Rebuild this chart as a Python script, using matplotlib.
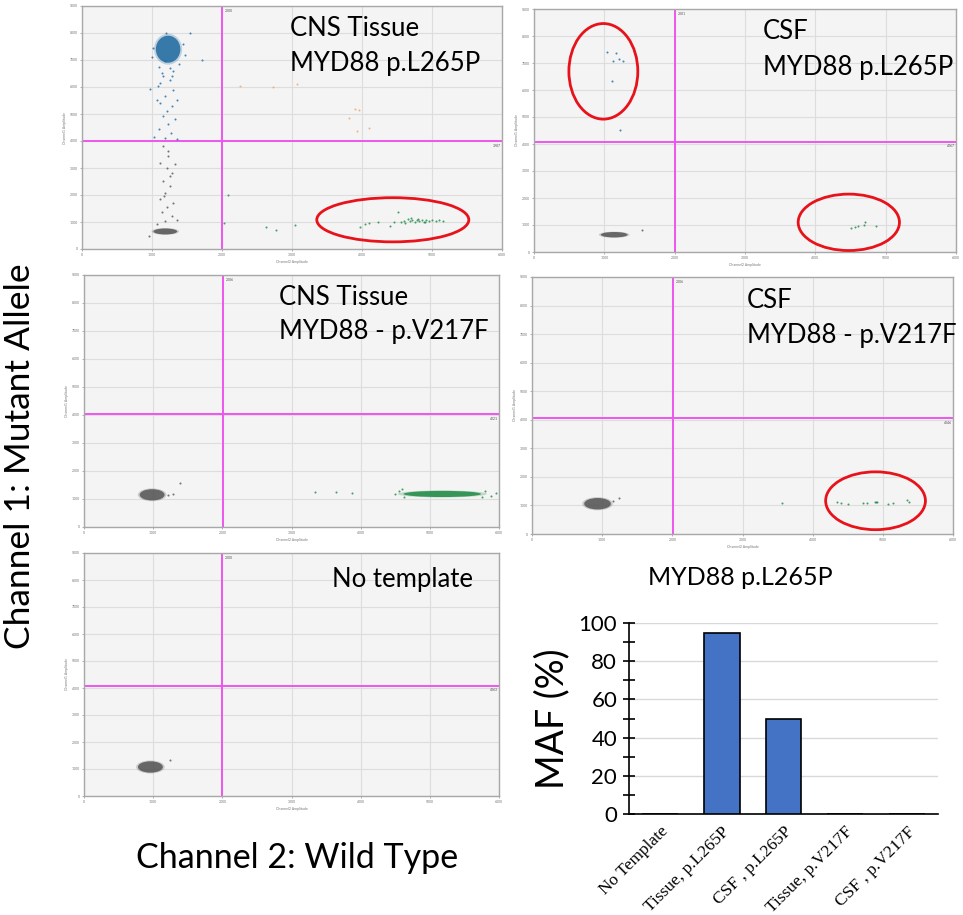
import numpy as np
import matplotlib
matplotlib.use("Agg")
from matplotlib import pyplot as plt
from matplotlib.patches import Ellipse

plt.rcParams['font.family'] = ['Lato', 'DejaVu Sans']

# ---- droplet data (Channel2 amplitude, Channel1 amplitude) ----
# dense clusters: centre x, centre y, half width, half height
tissue_l265p_neg = (1190, 650, 170, 110)
tissue_l265p_mut = (1230, 7400, 175, 500)
csf_l265p_neg = (1140, 640, 190, 100)
tissue_v217f_neg = (985, 1150, 180, 200)
tissue_v217f_wt = (5180, 1180, 560, 110)
csf_v217f_neg = (934, 1060, 190, 200)
no_template_neg = (960, 1075, 180, 210)

# sparse droplets, panel A (CNS tissue, p.L265P)
a_blue_x = [1163, 1258, 1091, 1306, 1187, 1115, 1282, 1211, 1153, 1330, 1234, 1105, 1268,
            1187, 1029, 1354, 1067, 1354, 1139, 1306, 1545, 1713, 971, 1100, 1380, 1250, 1180,
            1010, 1440, 1470, 1000, 1200, 1290, 1120]
a_blue_y = [6396, 6273, 6027, 5904, 5658, 5412, 5289, 5105, 4920, 4797, 4613, 4428, 4305,
            4120, 4157, 4059, 5535, 5535, 6519, 6581, 7995, 7010, 5930, 6750, 6850, 6700, 6950,
            7450, 7600, 7200, 7100, 8000, 6400, 6150]
a_grey_x = [1163, 1234, 1115, 1211, 1282, 1153, 1258, 1187, 1115, 1306, 1211, 1139, 1282,
            1187, 1354, 1067, 1234, 1330, 957, 1250, 1170]
a_grey_y = [3813, 3444, 3198, 3014, 2829, 2521, 2337, 2091, 1845, 1722, 1538, 1353, 1230,
            1045, 1082, 922, 3629, 3137, 467, 2700, 1950]
a_orange_x = [2263, 2732, 3067, 3904, 3952, 3809, 4100, 3923]
a_orange_y = [6027, 5990, 6125, 5190, 5141, 4870, 4465, 4366]
a_green_x = [2086, 2033, 2622, 2775, 3048, 3971, 4048, 4105, 4225, 4407, 4512, 4464,
             4550, 4600, 4620, 4650, 4680, 4700, 4720, 4750, 4780, 4800, 4820, 4850,
             4880, 4900, 4920, 4950, 5000, 5050, 5100, 5150]
a_green_y = [2005, 960, 824, 713, 898, 812, 922, 960, 1010, 861, 1353, 984,
             1000, 1050, 980, 1100, 1020, 1130, 1080, 1000, 1060, 1120, 1030, 1090,
             1010, 990, 1060, 1030, 1070, 1040, 1060, 1050]

# panel B (CSF, p.L265P)
b_blue_x = [1043, 1167, 1205, 1119, 1262, 1110, 1219]
b_blue_y = [7420, 7383, 7136, 7074, 7074, 6321, 4531]
b_grey_x = [1533]
b_grey_y = [827]
b_green_x = [4510, 4557, 4605, 4686, 4710, 4867]
b_green_y = [877, 926, 975, 1000, 1123, 950]

# panel C (CNS tissue, p.V217F)
c_grey_x = [1386, 1290, 1217]
c_grey_y = [1571, 1180, 1160]
c_green_x = [3343, 3643, 3874, 4494, 4560, 4620, 5800, 5880, 5960, 4600, 5750]
c_green_y = [1238, 1238, 1226, 1180, 1300, 1080, 1270, 1120, 1200, 1350, 1060]

# panel D (CSF, p.V217F)
d_grey_x = [1246, 1161]
d_grey_y = [1257, 1141]
d_green_x = [3564, 4351, 4398, 4502, 4716, 4778, 4882, 4905, 4919, 5071, 5152, 5346, 5379]
d_green_y = [1071, 1106, 1083, 1059, 1071, 1071, 1118, 1129, 1106, 1048, 1071, 1176, 1106]

# panel E (no template)
e_grey_x = [1239]
e_grey_y = [1332]

# thresholds (Channel2, Channel1)
thresholds = {"A": (2000, 3987), "B": (2001, 4067), "C": (2006, 4021),
              "D": (2006, 4046), "E": (2000, 4063)}

# red circles: centre x, centre y, width, height
circles_a = [(4440, 1082, 2172, 1636)]
circles_b = [(986, 6691, 980, 3540), (4476, 1099, 1440, 2090)]
circles_d = [(4896, 1164, 1422, 2026)]

# ---- bar chart data ----
maf_labels = ["No Template", "Tissue, p.L265P", "CSF , p.L265P", "Tissue, p.V217F", "CSF , p.V217F"]
maf_values = [0, 95, 50, 0, 0]

GREY = "#555555"
BLUE = "#1f6aa0"
GREEN = "#1f8a45"
ORANGE = "#f2a46a"
MAGENTA = "#ee55ee"


def droplet_panel(rect, key, clusters, points, circles, title_lines):
    ax = fig.add_axes(rect)
    ax.set_facecolor("#f4f4f4")
    ax.set_xlim(0, 6000)
    ax.set_ylim(0, 9000)
    ax.set_xticks(range(0, 6001, 1000))
    ax.set_yticks(range(0, 9001, 1000))
    ax.tick_params(labelsize=2.5, colors="#777777", length=1.5, width=0.4, pad=1.5)
    ax.grid(True, color="#dddddd", linewidth=0.8)
    ax.set_axisbelow(True)
    for sp in ax.spines.values():
        sp.set_color("#a8a8a8")
        sp.set_linewidth(1.0)
    ax.set_xlabel("Channel2 Amplitude", fontsize=2.5, color="#777777", labelpad=2)
    ax.set_ylabel("Channel1 Amplitude", fontsize=2.5, color="#777777", labelpad=2)

    for cx, cy, hw, hh, col in clusters:
        # soft halo then the dense core
        ax.add_patch(Ellipse((cx, cy), 2.3 * hw, 2.3 * hh, facecolor=col, edgecolor="none",
                             alpha=0.25, zorder=3))
        ax.add_patch(Ellipse((cx, cy), 2 * hw, 2 * hh, facecolor=col, edgecolor="none",
                             alpha=0.85, zorder=3))
    for xs, ys, col in points:
        ax.scatter(xs, ys, s=2.2, color=col, alpha=0.8, linewidths=0, zorder=4)

    tx, ty = thresholds[key]
    ax.axvline(tx, color=MAGENTA, linewidth=1.4, zorder=2)
    ax.axhline(ty, color=MAGENTA, linewidth=1.4, zorder=2)
    ax.text(tx + 40, 8900, str(tx), fontsize=2.5, color="#555555", va="top", ha="left")
    ax.text(5980, ty - 80, str(ty), fontsize=2.5, color="#555555", va="top", ha="right")

    for cx, cy, w, h in circles:
        ax.add_patch(Ellipse((cx, cy), w, h, fill=False, edgecolor="#e8121b",
                             linewidth=2.0, zorder=5))

    for x, y, s in title_lines:
        ax.text(x, y, s, transform=ax.transAxes, fontsize=18.5, va="baseline", ha="left")
    return ax


W, H = 963, 915
fig = plt.figure(figsize=(W / 100, H / 100), dpi=100)


def rect(l, r, t, b):
    return [l / W, 1 - b / H, (r - l) / W, (b - t) / H]


droplet_panel(rect(82, 502, 6, 249), "A",
              [tissue_l265p_mut + (BLUE,), tissue_l265p_neg + (GREY,)],
              [(a_blue_x, a_blue_y, BLUE), (a_grey_x, a_grey_y, GREY),
               (a_orange_x, a_orange_y, ORANGE), (a_green_x, a_green_y, GREEN)],
              circles_a, [(0.495, 0.877, "CNS Tissue"), (0.495, 0.733, "MYD88 p.L265P")])

droplet_panel(rect(534, 956, 9, 252), "B",
              [csf_l265p_neg + (GREY,)],
              [(b_blue_x, b_blue_y, BLUE), (b_grey_x, b_grey_y, GREY),
               (b_green_x, b_green_y, GREEN)],
              circles_b, [(0.543, 0.877, "CSF"), (0.543, 0.728, "MYD88 p.L265P")])

droplet_panel(rect(84, 499, 275, 527), "C",
              [tissue_v217f_neg + (GREY,), tissue_v217f_wt + (GREEN,)],
              [(c_grey_x, c_grey_y, GREY), (c_green_x, c_green_y, GREEN)],
              [], [(0.470, 0.881, "CNS Tissue"), (0.470, 0.746, "MYD88 - p.V217F")])

droplet_panel(rect(532, 953, 277, 534), "D",
              [csf_v217f_neg + (GREY,)],
              [(d_grey_x, d_grey_y, GREY), (d_green_x, d_green_y, GREEN)],
              circles_d, [(0.511, 0.879, "CSF"), (0.511, 0.743, "MYD88 - p.V217F")])

droplet_panel(rect(84, 499, 553, 796), "E",
              [no_template_neg + (GREY,)],
              [(e_grey_x, e_grey_y, GREY)],
              [], [(0.598, 0.860, "No template")])

fig.text(20 / W, 1 - 456 / H, "Channel 1: Mutant Allele", rotation=90, fontsize=25.5,
         ha="center", va="center")
fig.text(297 / W, 1 - 868 / H, "Channel 2: Wild Type", fontsize=24.5, ha="center", va="baseline")

# ---- MAF bar chart ----
bx = fig.add_axes(rect(629, 938, 623, 814))
pos = np.arange(len(maf_labels))
bx.bar(pos, maf_values, width=0.58, color="#4472c4", edgecolor="black", linewidth=1.2, zorder=3)
bx.set_xlim(-0.5, len(maf_labels) - 0.5)
bx.set_ylim(0, 100)
bx.set_yticks(range(0, 101, 20))
bx.set_yticks(range(10, 100, 20), minor=True)
bx.tick_params(axis="y", which="both", direction="inout", length=9, width=1.2,
               labelsize=16, pad=4)
bx.tick_params(axis="x", length=0, pad=7)
bx.set_xticks(pos)
bx.set_xticklabels(maf_labels, rotation=45, ha="right", va="top", rotation_mode="anchor",
                   family=["Liberation Serif"], fontsize=12.5)
bx.grid(True, axis="y", color="#d9d9d9", linewidth=1.0)
bx.set_axisbelow(True)
for s in ("top", "right"):
    bx.spines[s].set_visible(False)
bx.spines["left"].set_linewidth(1.2)
bx.spines["bottom"].set_linewidth(1.2)
bx.set_ylabel("MAF (%)", fontsize=27, labelpad=6)
fig.text(740 / W, 1 - 585 / H, "MYD88 p.L265P", fontsize=18, ha="center", va="baseline")

fig.savefig("out.png", dpi=100)
